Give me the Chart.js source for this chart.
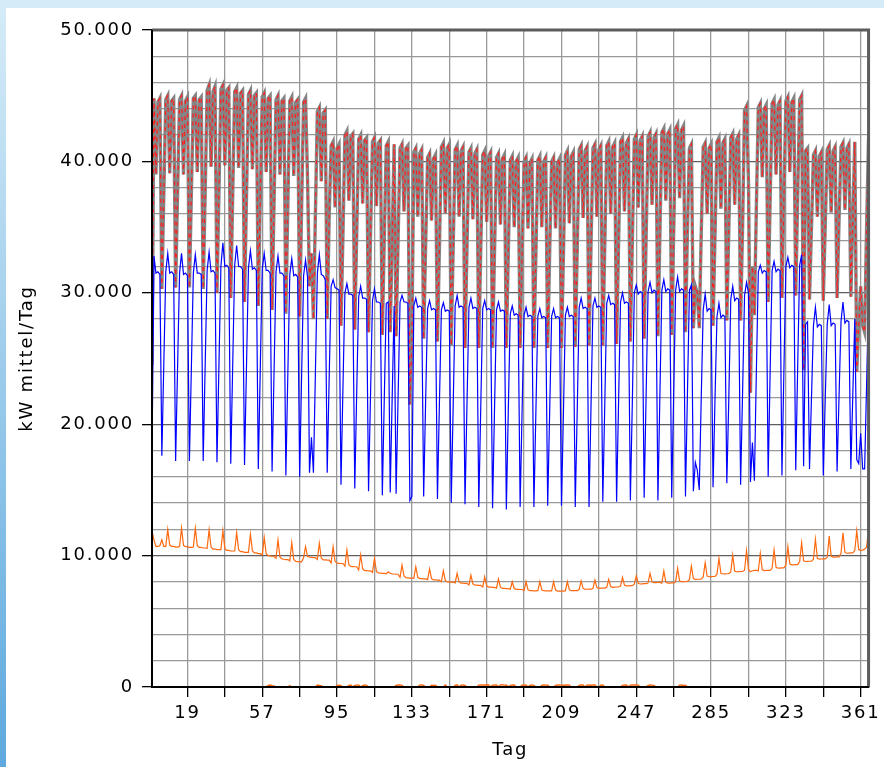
<!DOCTYPE html>
<html>
<head>
<meta charset="utf-8">
<script src="https://cdn.jsdelivr.net/npm/chart.js@4.4.1/dist/chart.umd.min.js"></script>
<style>
  html, body { margin: 0; padding: 0; }
  body { width: 884px; height: 767px; overflow: hidden; background: linear-gradient(to bottom, #d6ecf8, #5ea9de); position: relative; }
  #rahmen { position: absolute; left: 6px; top: 8px; width: 878px; height: 759px; background: #fff; }
  canvas { display: block; }
</style>
</head>
<body>
<div id="rahmen"><canvas id="diagramm" width="878" height="759"></canvas></div>
<script>
// Tage 1..365 (Kategorien der x-Achse)
const tage = Array.from({ length: 365 }, (_, i) => i + 1);

// Achsenbeschriftung
const xGitter = [19, 38, 57, 76, 95, 114, 133, 152, 171, 190, 209, 228, 247, 266, 285, 304, 323, 342, 361];
const xBeschriftet = [19, 57, 95, 133, 171, 209, 247, 285, 323, 361];
const yBeschriftet = [0, 10000, 20000, 30000, 40000, 50000];

// Gesamt (grau, rot gestrichelt darüber) – kW mittel/Tag
const gesamt = [
  24500, 44800, 39000, 44500, 44800, 30300, 37500,
  44700, 45000, 39100, 44600, 44800, 30400, 37600,
  44700, 45000, 39000, 44600, 44900, 30400, 37600,
  44800, 45000, 39200, 44700, 44900, 30300, 37500,
  45400, 45800, 39600, 45300, 45700, 30000, 37600,
  45500, 45800, 39700, 45400, 45600, 29600, 37500,
  45300, 45600, 39500, 45200, 45400, 29300, 37400,
  45100, 45400, 39400, 45000, 45200, 29000, 37200,
  44900, 45200, 39200, 44800, 45000, 28700, 36900,
  44700, 45000, 39000, 44600, 44800, 28400, 36700,
  44600, 44900, 38900, 44500, 44700, 28200, 36500,
  44500, 44800, 38800, 30500, 33000, 28000, 36000,
  43800, 44100, 38500, 43700, 43900, 28000, 35800,
  41200, 41500, 36500, 41000, 41300, 27500, 34500,
  42000, 42300, 37000, 41900, 42100, 27200, 34600,
  41700, 42000, 36800, 41600, 41800, 27000, 34400,
  41500, 41800, 36600, 41400, 41600, 26800, 34200,
  41200, 41500, 27000, 34000, 41300, 26700, 34000,
  41000, 41300, 36200, 41000, 41200, 21500, 26000,
  40700, 41000, 35800, 40600, 40900, 26500, 33600,
  40300, 40600, 35500, 40200, 40500, 26300, 33400,
  41100, 41400, 36000, 41000, 41300, 26000, 33500,
  40900, 41200, 35800, 40800, 41100, 25800, 33400,
  40700, 41000, 35600, 40600, 40900, 25800, 33300,
  40500, 40800, 35400, 40400, 40700, 25800, 33200,
  40300, 40600, 35200, 40200, 40500, 25800, 33100,
  40100, 40400, 35000, 40000, 40300, 25800, 33000,
  40000, 40300, 34900, 39900, 40200, 25800, 32900,
  40100, 40400, 35000, 40000, 40300, 25800, 33000,
  40000, 40300, 34900, 39900, 40200, 25800, 32900,
  40500, 40800, 35300, 40400, 40700, 25900, 33200,
  40900, 41200, 35700, 40800, 41100, 26000, 33500,
  41000, 41300, 35800, 40900, 41200, 26000, 33600,
  41200, 41500, 36000, 41100, 41400, 26100, 33700,
  41500, 41800, 36200, 41400, 41700, 26300, 33900,
  41700, 42000, 36500, 41600, 41900, 26500, 34200,
  41900, 42200, 36700, 41800, 42100, 26700, 34400,
  42200, 42500, 37000, 42100, 42400, 26800, 34600,
  42500, 42800, 37200, 42400, 42700, 27000, 34800,
  41000, 41300, 27300, 30500, 30000, 27300, 34500,
  41100, 41400, 36000, 41000, 41300, 27500, 34400,
  41500, 41800, 36400, 41400, 41700, 27900, 34800,
  41800, 42100, 36700, 41700, 42000, 27900, 35000,
  43900, 44200, 38500, 22400, 32000, 28300, 36500,
  44100, 44400, 38800, 44000, 44300, 29300, 37000,
  44400, 44700, 39000, 44300, 44600, 29600, 37200,
  44600, 44900, 39200, 44500, 44800, 29800, 37400,
  44700, 45000, 24100, 40800, 41000, 29500, 35000,
  40500, 40800, 35800, 40400, 40700, 29400, 35200,
  40900, 41200, 36100, 40800, 41100, 29600, 35500,
  41100, 41400, 36300, 41000, 41300, 29700, 35700,
  41500, 24000, 27500, 30500, 27500, 27000, 35000,
  41800
];

// Strom (blau)
const strom = [
  17600, 32800, 31500, 31600, 31400, 17600, 24600,
  31600, 33000, 31500, 31600, 31400, 17200, 24400,
  31500, 33000, 31400, 31500, 31300, 17200, 24300,
  31500, 32900, 31500, 31500, 31400, 17200, 24400,
  31700, 33100, 31600, 31700, 31500, 17100, 24400,
  32000, 33800, 32000, 32100, 31900, 17000, 24500,
  32100, 33600, 32000, 32000, 31800, 16900, 24400,
  31900, 33200, 31800, 31900, 31700, 16600, 24200,
  31800, 33000, 31700, 31700, 31500, 16400, 24000,
  31600, 32800, 31500, 31500, 31300, 16100, 23800,
  31400, 32600, 31300, 31400, 31200, 16000, 23700,
  31300, 32500, 31200, 16300, 19000, 16300, 23900,
  31500, 32900, 31400, 31300, 31000, 16300, 23500,
  30500, 31000, 30400, 30300, 30200, 15400, 22800,
  30000, 30700, 29900, 29900, 29800, 15100, 22500,
  29700, 30500, 29600, 29600, 29500, 14900, 22200,
  29400, 30300, 29300, 29300, 29200, 14600, 22000,
  29200, 29300, 14800, 22000, 29000, 14700, 22000,
  29300, 29800, 29300, 29300, 29200, 14200, 14500,
  29000, 29600, 28900, 29000, 28900, 14500, 21800,
  28800, 29400, 28700, 28800, 28700, 14300, 21600,
  28700, 29250, 28600, 28700, 28600, 14000, 21400,
  29000, 29800, 28900, 29000, 28900, 13900, 21500,
  28900, 29600, 28800, 28900, 28800, 13700, 21300,
  28800, 29400, 28700, 28800, 28700, 13600, 21200,
  28700, 29300, 28600, 28700, 28600, 13500, 21100,
  28400, 29000, 28300, 28400, 28300, 13700, 21000,
  28300, 28900, 28200, 28300, 28200, 13700, 20900,
  28200, 28800, 28100, 28200, 28100, 13800, 20900,
  28200, 28800, 28100, 28200, 28100, 13800, 20900,
  28300, 28900, 28200, 28300, 28200, 13700, 21000,
  28900, 29600, 28800, 28900, 28800, 13700, 21300,
  29000, 29600, 28900, 29000, 28900, 14100, 21500,
  29200, 29800, 29100, 29200, 29100, 14100, 21600,
  29300, 30000, 29200, 29300, 29200, 14200, 21700,
  30000, 30600, 29900, 30100, 30000, 14400, 22200,
  30100, 30800, 30000, 30200, 30100, 14200, 22200,
  30200, 31000, 30100, 30300, 30200, 14400, 22300,
  30200, 31200, 30100, 30300, 30200, 14500, 22400,
  30200, 30600, 14900, 17100, 16500, 15000, 22000,
  28700, 29900, 28600, 28800, 28700, 15200, 22000,
  28200, 29200, 28100, 28300, 28200, 15500, 21900,
  29500, 30500, 29400, 29600, 29500, 15400, 22400,
  29800, 30800, 30000, 15600, 18600, 15700, 24000,
  31600, 32100, 31500, 31700, 31600, 16000, 24000,
  31700, 32400, 31600, 31800, 31700, 16100, 24100,
  32000, 32700, 31900, 32100, 32000, 16500, 24400,
  32100, 32900, 16800, 27600, 27800, 16600, 22000,
  27500, 28900, 27400, 27600, 27500, 16100, 22000,
  27600, 29100, 27500, 27700, 27600, 16400, 22100,
  27800, 29300, 27700, 27900, 27800, 16600, 22300,
  28000, 17300, 17000, 19300, 16600, 16600, 23000,
  29700
];

// Wärme (orange)
const waerme = [
  11900, 11200, 10700, 10700, 10750, 11200, 10700,
  10700, 12000, 10800, 10700, 10700, 10650, 10650,
  10700, 12080, 10780, 10680, 10680, 10630, 10630,
  10650, 12080, 10750, 10630, 10630, 10580, 10580,
  10550, 11950, 10650, 10500, 10500, 10450, 10450,
  10450, 11900, 10550, 10400, 10400, 10350, 10350,
  10350, 11740, 10450, 10300, 10300, 10250, 10250,
  10250, 11620, 10350, 10200, 10200, 10150, 10150,
  10050, 11390, 10150, 10000, 9980, 9950, 9950,
  9800, 11190, 9900, 9750, 9720, 9700, 9700,
  9600, 10990, 9700, 9550, 9540, 9520, 9520,
  9850, 10680, 9950, 9880, 9870, 9850, 9850,
  9700, 10940, 9800, 9680, 9670, 9650, 9650,
  9450, 10680, 9550, 9420, 9410, 9400, 9400,
  9200, 10430, 9300, 9170, 9160, 9150, 9150,
  8900, 10050, 9000, 8860, 8850, 8830, 8830,
  8720, 9790, 8800, 8680, 8670, 8650, 8650,
  8620, 8770, 8650, 8600, 8600, 8580, 8580,
  8350, 9280, 8450, 8320, 8300, 8280, 8280,
  8270, 9160, 8350, 8250, 8250, 8230, 8230,
  8170, 8980, 8250, 8150, 8150, 8130, 8130,
  8020, 8850, 8100, 8000, 8000, 7980, 7980,
  7920, 8650, 8000, 7900, 7900, 7880, 7880,
  7770, 8520, 7850, 7750, 7750, 7730, 7730,
  7620, 8390, 7700, 7600, 7600, 7580, 7580,
  7520, 8220, 7600, 7500, 7500, 7480, 7480,
  7440, 8010, 7500, 7430, 7430, 7420, 7420,
  7340, 8010, 7400, 7330, 7330, 7320, 7320,
  7330, 8010, 7400, 7330, 7320, 7310, 7310,
  7310, 8010, 7380, 7300, 7300, 7300, 7300,
  7330, 8010, 7400, 7330, 7330, 7340, 7340,
  7420, 8070, 7500, 7430, 7440, 7450, 7450,
  7500, 8140, 7570, 7510, 7520, 7530, 7530,
  7580, 8190, 7650, 7590, 7600, 7610, 7610,
  7680, 8350, 7750, 7690, 7700, 7710, 7710,
  7820, 8450, 7900, 7840, 7850, 7860, 7860,
  7920, 8650, 8000, 7940, 7950, 7960, 7960,
  7900, 8830, 7980, 7900, 7910, 7920, 7920,
  8000, 9030, 8080, 8010, 8020, 8030, 8030,
  8180, 9210, 8250, 8190, 8200, 8200, 8200,
  8380, 9460, 8450, 8390, 8400, 8410, 8410,
  8590, 9790, 8660, 8600, 8610, 8620, 8620,
  8760, 10050, 8830, 8770, 8780, 8790, 8790,
  8890, 10380, 8950, 8770, 8850, 8880, 8880,
  8850, 10170, 8920, 8860, 8870, 8880, 8880,
  9030, 10430, 9100, 9040, 9050, 9060, 9060,
  9280, 10680, 9350, 9290, 9300, 9310, 9310,
  9540, 10990, 9610, 9550, 9560, 9570, 9570,
  9720, 11240, 9790, 9730, 9740, 9750, 9750,
  9870, 11490, 9940, 9880, 9890, 9900, 9900,
  10170, 11740, 10240, 10180, 10190, 10200, 10200,
  10380, 11900, 10450, 10400, 10420, 10500, 10630,
  12080
];

// Sonstiges (orange, nahe null)
const sonstiges = [
  0, 0, 0, 0, 0, 0, 0,
  0, 0, 0, 0, 0, 0, 0,
  0, 0, 0, 0, 0, 0, 0,
  0, 0, 0, 0, 0, 0, 0,
  0, 0, 0, 0, 0, 0, 0,
  0, 0, 0, 0, 0, 0, 0,
  0, 0, 0, 0, 0, 0, 0,
  0, 0, 0, 0, 0, 0, 0,
  0, 0, 0, 120, 150, 100, 80,
  0, 0, 0, 0, 0, 0, 0,
  100, 0, 0, 0, 0, 0, 0,
  0, 0, 0, 0, 0, 0, 0,
  150, 120, 100, 0, 0, 0, 0,
  0, 0, 0, 120, 140, 100, 0,
  0, 0, 130, 150, 0, 120, 140,
  150, 0, 100, 160, 120, 0, 0,
  0, 0, 0, 0, 0, 0, 0,
  0, 0, 0, 0, 0, 120, 150,
  160, 130, 0, 0, 0, 0, 0,
  0, 0, 0, 140, 150, 120, 0,
  0, 0, 130, 120, 140, 0, 0,
  0, 0, 150, 0, 0, 0, 0,
  120, 160, 0, 140, 150, 130, 0,
  0, 0, 0, 0, 0, 140, 160,
  150, 130, 170, 150, 0, 140, 160,
  150, 0, 160, 170, 140, 150, 0,
  130, 160, 150, 0, 0, 0, 140,
  150, 160, 0, 140, 150, 130, 0,
  0, 0, 120, 150, 140, 150, 0,
  0, 0, 130, 160, 150, 140, 120,
  150, 160, 140, 0, 0, 0, 0,
  130, 150, 160, 0, 140, 150, 130,
  150, 160, 0, 0, 140, 150, 0,
  0, 0, 0, 0, 0, 0, 0,
  0, 130, 160, 150, 0, 140, 150,
  160, 150, 140, 0, 0, 0, 0,
  130, 150, 140, 120, 0, 0, 0,
  0, 0, 0, 0, 0, 0, 0,
  0, 0, 140, 150, 120, 130, 0,
  0, 0, 0, 0, 0, 0, 0,
  0, 0, 0, 0, 0, 0, 0,
  0, 0, 0, 0, 0, 0, 0,
  0, 0, 0, 0, 0, 0, 0,
  0, 0, 0, 0, 0, 0, 0,
  0, 0, 0, 0, 0, 0, 0,
  0, 0, 0, 0, 0, 0, 0,
  0, 0, 0, 0, 0, 0, 0,
  0, 0, 0, 0, 0, 0, 0,
  0, 0, 0, 0, 0, 0, 0,
  0, 0, 0, 0, 0, 0, 0,
  0, 0, 0, 0, 0, 0, 0,
  0, 0, 0, 0, 0, 0, 0,
  0
];

const schrift = { family: "'DejaVu Sans', sans-serif", size: 18 };
const tausender = v => String(v).replace(/\B(?=(\d{3})+(?!\d))/g, '.');

// etwas breitere Schrift wie im Original
const sperrung = {
  id: 'sperrung',
  beforeDraw(chart) { chart.ctx.letterSpacing = '1.8px'; }
};

// Rahmen oben/rechts und Achsen über den Linien
const rahmen = {
  id: 'rahmen',
  afterDatasetsDraw(chart) {
    const { ctx, chartArea: a } = chart;
    ctx.save();
    ctx.strokeStyle = '#5c5c5c';
    ctx.lineWidth = 3;
    ctx.beginPath();
    ctx.moveTo(a.left, a.top);
    ctx.lineTo(a.right, a.top);
    ctx.lineTo(a.right, a.bottom);
    ctx.stroke();
    ctx.strokeStyle = '#000';
    ctx.lineWidth = 2;
    ctx.beginPath();
    ctx.moveTo(a.left, a.top);
    ctx.lineTo(a.left, a.bottom);
    ctx.lineTo(a.right, a.bottom);
    ctx.stroke();
    ctx.restore();
  }
};

const linie = (daten, farbe, breite, reihe, extra) => Object.assign({
  data: daten,
  borderColor: farbe,
  borderWidth: breite,
  pointRadius: 0,
  tension: 0,
  fill: false,
  order: reihe
}, extra || {});

new Chart(document.getElementById('diagramm'), {
  type: 'line',
  data: {
    labels: tage,
    datasets: [
      linie(gesamt, '#858585', 3.4, 5),
      linie(gesamt, '#ff2020', 1.3, 4, { borderDash: [4, 4] }),
      linie(strom, '#0000ff', 1.2, 3),
      linie(sonstiges, '#ff6a10', 1.4, 2),
      linie(waerme, '#ff6a10', 1.2, 1)
    ]
  },
  options: {
    responsive: false,
    animation: false,
    events: [],
    layout: { padding: { left: 0, top: 22, right: 12, bottom: 0 } },
    plugins: { legend: { display: false }, tooltip: { enabled: false } },
    scales: {
      x: {
        type: 'linear',
        min: 1,
        max: 365,
        afterBuildTicks: s => { s.ticks = xGitter.map(v => ({ value: v })); },
        afterFit: s => { s.height = 80; },
        ticks: {
          autoSkip: false,
          maxRotation: 0,
          padding: 6,
          color: '#000',
          font: schrift,
          callback: v => xBeschriftet.includes(v) ? String(v) : ''
        },
        grid: { color: '#999999', lineWidth: 1.3, tickLength: 10, tickColor: '#000' },
        border: { color: '#000', width: 2 },
        title: { display: true, text: 'Tag', color: '#000', font: schrift, padding: { top: 0, bottom: 6 } }
      },
      y: {
        min: 0,
        max: 50000,
        afterBuildTicks: s => {
          const t = [];
          for (let v = 0; v <= 50000; v += 2000) t.push({ value: v });
          s.ticks = t;
        },
        afterFit: s => { s.width = 146; },
        ticks: {
          autoSkip: false,
          padding: 8,
          color: '#000',
          font: schrift,
          callback: v => yBeschriftet.includes(v) ? tausender(v) : ''
        },
        grid: {
          color: c => (c.tick && c.tick.value % 10000 === 0) ? '#5e5e5e' : '#999999',
          lineWidth: 1.3,
          tickLength: 10,
          tickColor: c => (c.tick && c.tick.value % 10000 === 0) ? '#000' : 'rgba(0,0,0,0)'
        },
        border: { color: '#000', width: 2 },
        title: { display: true, text: 'kW mittel/Tag', color: '#000', font: schrift, padding: { top: 11, bottom: 0 } }
      }
    }
  },
  plugins: [sperrung, rahmen]
});
</script>
</body>
</html>
